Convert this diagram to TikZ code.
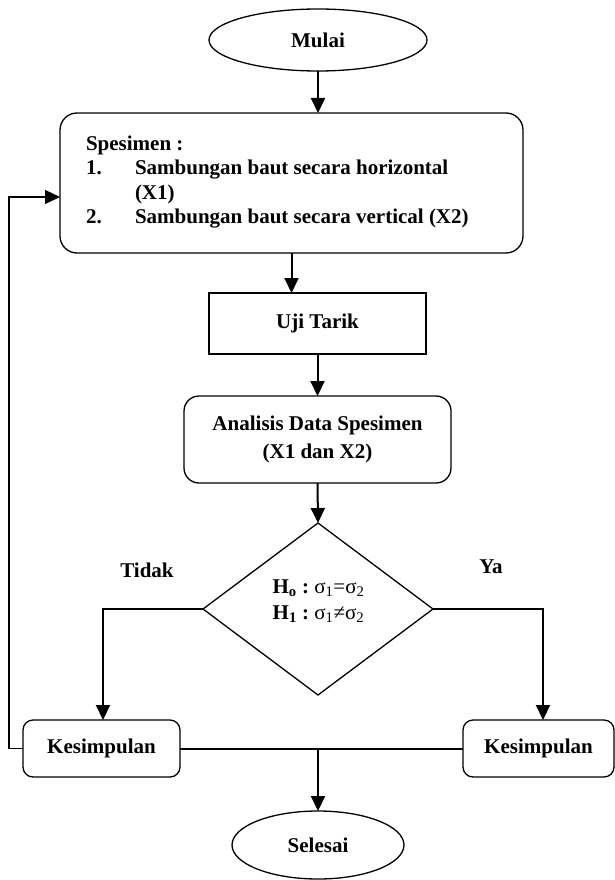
\documentclass[tikz,border=0pt]{standalone}
\usepackage{fontspec}
\setmainfont{Liberation Serif}
\usetikzlibrary{shapes.geometric,arrows.meta,calc}
\begin{document}
\begin{tikzpicture}[x=1pt,y=-1pt,
  every node/.style={outer sep=0pt,inner sep=0pt,font=\fontsize{21}{24.7}\selectfont\bfseries},
  term/.style={draw,ellipse,line width=1.3pt},
  roundbox/.style={draw,rectangle,rounded corners=#1,line width=1.3pt},
  roundbox/.default=10pt,
  plainbox/.style={draw,rectangle,line width=1.3pt},
  decision/.style={draw,diamond,line width=1.3pt,minimum width=230pt,minimum height=172pt},
  arr/.style={line width=2pt,-{Triangle[length=15pt,width=14pt]}},
  ln/.style={line width=2pt},
  fbarr/.style={line width=1.3pt,-{Triangle[length=15pt,width=14pt]}},
  txt/.style={anchor=base west},
  ctxt/.style={anchor=base}]
\useasboundingbox (0,0) rectangle (615,880);

\node[term,minimum width=218pt,minimum height=62pt] (mulai) at (318,40) {Mulai};

\node[roundbox=17pt,minimum width=463pt,minimum height=140pt] (spec) at (291.5,183) {};
\node[txt] (s0) at (86,150) {Spesimen :};
\node[txt] (s1n) at (86,174.5) {1.};
\node[txt] (s1) at (135,174.5) {Sambungan baut secara horizontal};
\node[txt] (s1b) at (135,199) {(X1)};
\node[txt] (s2n) at (86,223.5) {2.};
\node[txt] (s2) at (135,223.5) {Sambungan baut secara vertical (X2)};

\node[plainbox,minimum width=217pt,minimum height=61pt] (uji) at (317.5,323.5) {Uji Tarik};

\node[roundbox=15pt,minimum width=267pt,minimum height=87pt,align=center,
      font=\fontsize{21}{28}\selectfont\bfseries] (anal) at (317.5,439.5)
      {Analisis Data Spesimen\\(X1 dan X2)};

\node[decision] (dec) at (318,609) {};
\node[ctxt] (h0) at (318.5,593) {H\textsubscript{o} :\mdseries\ σ\textsubscript{1}=σ\textsubscript{2}};
\node[ctxt] (h1) at (318.5,619) {H\textsubscript{1} :\mdseries\ σ\textsubscript{1}≠σ\textsubscript{2}};

\node[ctxt] (tidak) at (147,577) {Tidak};
\node[ctxt] (ya) at (491,573) {Ya};

\node[roundbox=10pt,minimum width=157pt,minimum height=57pt] (kl) at (101.5,748.5) {Kesimpulan};
\node[roundbox=10pt,minimum width=151pt,minimum height=57pt] (kr) at (538.5,748.5) {Kesimpulan};

\node[term,minimum width=172pt,minimum height=68pt] (selesai) at (318,845) {Selesai};

\draw[arr] (mulai.south) -- (mulai.south |- spec.north);
\draw[arr] (spec.south) -- (spec.south |- uji.north);
\draw[arr] (uji.south) -- (anal.north);
\draw[arr] (anal.south) -- (dec.north);
\draw[arr] (dec.west) -| ([xshift=1.5pt]kl.north);
\draw[arr] (dec.east) -| ([xshift=4.5pt]kr.north);
\draw[ln] (kl.east) -- (kr.west);
\draw[arr] (kl.east -| selesai.north) -- (selesai.north);
\draw[fbarr] (kl.west) -- ++(-14,0) |- ([yshift=-14pt]spec.west);
\end{tikzpicture}
\end{document}
